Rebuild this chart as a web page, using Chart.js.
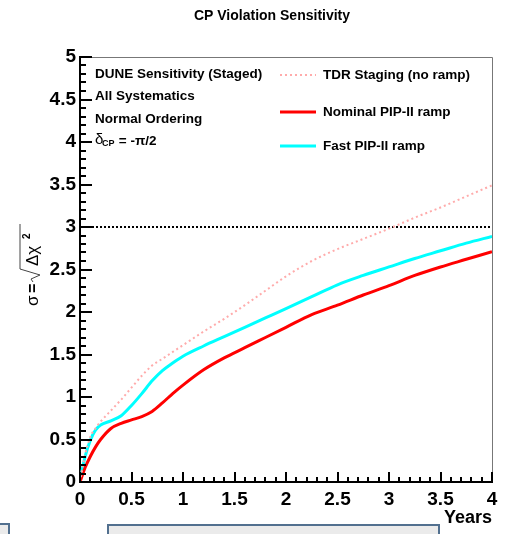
<!DOCTYPE html>
<html>
<head>
<meta charset="utf-8">
<script src="https://cdn.jsdelivr.net/npm/chart.js@4.4.0/dist/chart.umd.min.js"></script>
<style>
body { margin: 0; background: #fff; }
#wrap { position: relative; width: 510px; height: 534px; overflow: hidden; }
.box { position: absolute; background: #ebebeb; border: 2px solid #52708f; }
</style>
</head>
<body>
<div id="wrap">
<canvas id="myChart" width="510" height="534"></canvas>
<div class="box" style="left:-20px; top:523px; width:26px; height:30px"></div>
<div class="box" style="left:107px; top:524px; width:329px; height:30px"></div>
</div>
<script>
// values (years, sigma)
var years = [0, 0.05, 0.1, 0.15, 0.2, 0.3, 0.4, 0.5, 0.6, 0.7, 0.8, 0.9, 1.0, 1.2, 1.4, 1.6, 1.8, 2.0, 2.25, 2.5, 2.75, 3.0, 3.25, 3.5, 3.75, 4.0];
var tdrStaging = [0, 0.32, 0.53, 0.63, 0.71, 0.84, 0.97, 1.11, 1.25, 1.37, 1.45, 1.53, 1.61, 1.77, 1.92, 2.08, 2.25, 2.42, 2.60, 2.74, 2.86, 2.98, 3.11, 3.23, 3.36, 3.49];
var nominalRamp = [0, 0.17, 0.30, 0.41, 0.50, 0.63, 0.69, 0.73, 0.77, 0.83, 0.93, 1.04, 1.14, 1.32, 1.46, 1.58, 1.70, 1.82, 1.97, 2.08, 2.20, 2.31, 2.43, 2.53, 2.62, 2.71];
var fastRamp = [0.02, 0.30, 0.49, 0.61, 0.67, 0.72, 0.78, 0.90, 1.04, 1.19, 1.31, 1.40, 1.48, 1.60, 1.71, 1.82, 1.93, 2.04, 2.18, 2.32, 2.43, 2.53, 2.63, 2.72, 2.81, 2.89];
var threeSigma = [3, 3];
var threeSigmaYears = [0, 4];
var xTicks = [0, 0.5, 1, 1.5, 2, 2.5, 3, 3.5, 4];
var yTicks = [0, 0.5, 1, 1.5, 2, 2.5, 3, 3.5, 4, 4.5, 5];
var infoLines = ['DUNE Sensitivity (Staged)', 'All Systematics', 'Normal Ordering'];

var font = '"Liberation Sans", Arial, sans-serif';

function pts(xs, ys) {
  return xs.map(function(x, i) { return { x: x, y: ys[i] }; });
}

function line(ctx, x1, y1, x2, y2) {
  ctx.beginPath();
  ctx.moveTo(x1, y1);
  ctx.lineTo(x2, y2);
  ctx.stroke();
}

// ROOT-like frame, inward ticks, texts and legend
var rootStyle = {
  id: 'rootStyle',
  afterDraw: function(chart) {
    var ctx = chart.ctx, a = chart.chartArea;
    var xs = chart.scales.x, ys = chart.scales.y;
    ctx.save();

    ctx.strokeStyle = '#777';
    ctx.lineWidth = 1;
    ctx.beginPath();
    ctx.moveTo(a.left, a.top + 0.5);
    ctx.lineTo(a.right + 0.5, a.top + 0.5);
    ctx.lineTo(a.right + 0.5, a.bottom);
    ctx.stroke();

    ctx.strokeStyle = '#000';
    ctx.lineWidth = 2;
    for (var i = 0; i <= 50; i++) {
      var py = Math.round(ys.getPixelForValue(i / 10));
      line(ctx, a.left, py, a.left + (i % 5 == 0 ? 12 : 6), py);
    }
    for (var j = 0; j <= 40; j++) {
      var px = Math.round(xs.getPixelForValue(j / 10));
      line(ctx, px, a.bottom, px, a.bottom - (j % 5 == 0 ? 10 : 5));
    }

    ctx.fillStyle = '#000';
    ctx.textBaseline = 'middle';
    ctx.textAlign = 'center';
    ctx.font = 'bold 14px ' + font;
    ctx.fillText('CP Violation Sensitivity', 272, 16);

    ctx.textAlign = 'right';
    ctx.font = 'bold 18px ' + font;
    ctx.fillText('Years', a.right, 518);

    // info block
    ctx.textAlign = 'left';
    ctx.font = 'bold 13.5px ' + font;
    infoLines.forEach(function(t, k) {
      ctx.fillText(t, 95, 74 + k * 22.5);
    });
    ctx.font = '15px ' + font;
    ctx.fillText('\u03b4', 95, 140);
    ctx.font = 'bold 9px ' + font;
    ctx.fillText('CP', 102, 144);
    ctx.font = 'bold 13.5px ' + font;
    ctx.fillText(' = -\u03c0/2', 115, 141);

    // legend
    var ly = [75, 112, 146];
    chart.data.datasets.slice(0, 3).forEach(function(ds, k) {
      ctx.strokeStyle = ds.borderColor;
      ctx.lineWidth = ds.borderWidth;
      ctx.setLineDash(ds.borderDash || []);
      line(ctx, 280, ly[k], 316, ly[k]);
      ctx.setLineDash([]);
      ctx.fillStyle = '#000';
      ctx.font = 'bold 13.5px ' + font;
      ctx.fillText(ds.label, 323, ly[k]);
    });

    // y title: sigma = sqrt(delta chi^2)
    ctx.translate(38, 306);
    ctx.rotate(-Math.PI / 2);
    ctx.textAlign = 'left';
    ctx.textBaseline = 'alphabetic';
    ctx.fillStyle = '#000';
    ctx.font = '17px ' + font;
    ctx.fillText('\u03c3', 0, 0);
    ctx.font = 'bold 16px ' + font;
    ctx.fillText('=', 13, 0);
    ctx.strokeStyle = '#444';
    ctx.lineWidth = 1;
    ctx.beginPath();
    ctx.moveTo(24, -5);
    ctx.lineTo(27, -7);
    ctx.lineTo(31, 2);
    ctx.lineTo(37, -18);
    ctx.lineTo(82, -18);
    ctx.stroke();
    ctx.font = '17px ' + font;
    ctx.fillText('\u0394\u03c7', 40, 0);
    ctx.font = 'bold 10px ' + font;
    ctx.fillText('2', 67, -8);

    ctx.restore();
  }
};

var ctx = document.getElementById('myChart').getContext('2d');
var myChart = new Chart(ctx, {
  type: 'line',
  data: {
    datasets: [
      {
        label: 'TDR Staging (no ramp)',
        data: pts(years, tdrStaging),
        borderColor: '#ffabab',
        borderWidth: 2,
        borderDash: [2, 3],
        pointRadius: 0,
        cubicInterpolationMode: 'monotone'
      },
      {
        label: 'Nominal PIP-II ramp',
        data: pts(years, nominalRamp),
        borderColor: '#ff0000',
        borderWidth: 3,
        pointRadius: 0,
        cubicInterpolationMode: 'monotone'
      },
      {
        label: 'Fast PIP-II ramp',
        data: pts(years, fastRamp),
        borderColor: '#00ffff',
        borderWidth: 3,
        pointRadius: 0,
        cubicInterpolationMode: 'monotone'
      },
      {
        label: '3 sigma',
        data: pts(threeSigmaYears, threeSigma),
        borderColor: '#000',
        borderWidth: 2,
        borderDash: [2, 2],
        pointRadius: 0
      }
    ]
  },
  options: {
    responsive: false,
    animation: false,
    devicePixelRatio: 1,
    layout: { padding: { top: 57, right: 18, left: 0, bottom: 0 } },
    plugins: {
      legend: { display: false },
      tooltip: { enabled: false },
      title: { display: false }
    },
    scales: {
      x: {
        type: 'linear',
        min: 0,
        max: 4,
        grid: { display: false, drawTicks: false },
        border: { color: '#000', width: 2 },
        afterBuildTicks: function(s) { s.ticks = xTicks.map(function(v) { return { value: v }; }); },
        afterFit: function(s) { s.height = 52; },
        ticks: {
          autoSkip: false,
          maxRotation: 0,
          padding: 6,
          color: '#000',
          font: { family: font, size: 19, weight: 'bold' },
          callback: function(v) { return String(v); }
        }
      },
      y: {
        type: 'linear',
        min: 0,
        max: 5,
        grid: { display: false, drawTicks: false },
        border: { color: '#000', width: 2 },
        afterBuildTicks: function(s) { s.ticks = yTicks.map(function(v) { return { value: v }; }); },
        afterFit: function(s) { s.width = 80; },
        ticks: {
          autoSkip: false,
          padding: 4,
          color: '#000',
          font: { family: font, size: 19, weight: 'bold' },
          callback: function(v) { return String(v); }
        }
      }
    }
  },
  plugins: [rootStyle]
});
</script>
</body>
</html>
